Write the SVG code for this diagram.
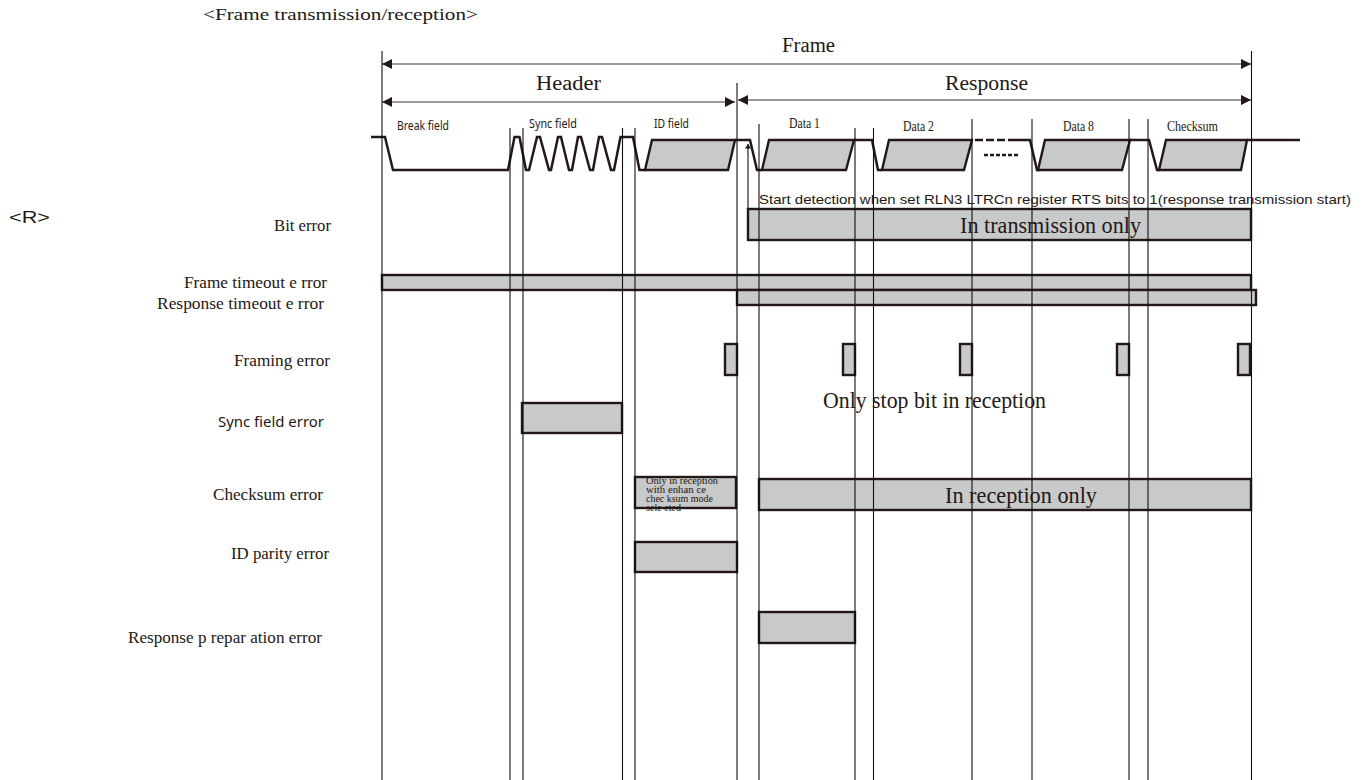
<svg xmlns="http://www.w3.org/2000/svg" width="1362" height="780" viewBox="0 0 1362 780">
<style>
text{font-family:"Liberation Serif","Times New Roman",serif;fill:#231815}
.sans{font-family:"Liberation Sans",Arial,sans-serif}
.noto{font-family:"Noto Sans",sans-serif}
.big{font-size:22.5px}
.hd{font-size:20px}
.lbl{font-size:16px}
.tiny{font-size:10px}
.bar{fill:#c8c9ca;stroke:#231815;stroke-width:2.4}
.wave{fill:none;stroke:#231815;stroke-width:2.5;stroke-linejoin:miter}
.v{stroke:#111;stroke-width:1.1;fill:none}
.dim{stroke:#3a3230;stroke-width:1.1;fill:none;marker-start:url(#ah);marker-end:url(#ah)}
</style>
<defs>
<marker id="ah" viewBox="0 0 10 10" refX="10" refY="5" markerUnits="userSpaceOnUse" markerWidth="10" markerHeight="10" orient="auto-start-reverse"><path d="M0 0L10 5L0 10Z" fill="#231815"/></marker>
<marker id="ahs" viewBox="0 0 6 8" refX="6" refY="4" markerUnits="userSpaceOnUse" markerWidth="6" markerHeight="6" orient="auto"><path d="M0 0L6 4L0 8Z" fill="#231815"/></marker>
</defs>

<text id="title" x="203" y="20" font-size="17" textLength="275" lengthAdjust="spacingAndGlyphs">&lt;Frame transmission/reception&gt;</text>
<text id="rev" class="sans" x="9" y="223" font-size="17" textLength="41" lengthAdjust="spacingAndGlyphs">&lt;R&gt;</text>

<g id="waveform">
<path class="bar" d="M645 170L652 140H735L728 170Z"/>
<path class="bar" d="M762 170L769 140H854L846 170Z"/>
<path class="bar" d="M882 170L889 140H972L964 170Z"/>
<path class="bar" d="M1038 170L1045 140H1130L1122 170Z"/>
<path class="bar" d="M1159 170L1166 140H1247L1241 170Z"/>
<path class="wave" d="M371 137H385L393 170H508L514.500 137H519.500L526 170H529L537 137H540L549 170H551L558 137H561L569 170H572L578 137H581L590 170H593L599 137H602L611 170H614L620.500 137H633L639.500 170H646"/>
<path class="wave" d="M735 140H750L757 170H762"/>
<path class="wave" d="M854 140H872L878 170H882"/>
<path class="wave" d="M1015 140H1030L1037 170H1040"/>
<path class="wave" d="M1130 140H1149L1157 170H1160"/>
<path class="wave" d="M1247 140H1300"/>
<path class="wave" d="M975 140H1015" stroke-dasharray="8 3"/>
<path class="wave" d="M984 155H1020" stroke-dasharray="4 2"/>
</g>

<g id="bars">
<rect id="bit-error-bar" class="bar" x="748" y="209" width="503" height="31"/>
<rect id="frame-timeout-bar" class="bar" x="382" y="275" width="869" height="15"/>
<rect id="response-timeout-bar" class="bar" x="737" y="290" width="519" height="15"/>
<rect class="bar" x="725" y="344" width="12" height="31"/>
<rect class="bar" x="843" y="344" width="12" height="31"/>
<rect class="bar" x="960" y="344" width="12" height="31"/>
<rect class="bar" x="1117" y="344" width="12" height="31"/>
<rect class="bar" x="1238" y="344" width="12" height="31"/>
<rect id="sync-bar" class="bar" x="522" y="403" width="100" height="30"/>
<rect id="checksum-bar-a" class="bar" x="635" y="477" width="101" height="31"/>
<rect id="checksum-bar-b" class="bar" x="759" y="479" width="492" height="31"/>
<rect id="id-parity-bar" class="bar" x="635" y="542" width="102" height="30"/>
<rect id="response-prep-bar" class="bar" x="759" y="612" width="96" height="31"/>
</g>

<g id="connectors">
<path class="v" d="M382 51V780M510 128V780M523 128V780M622.5 128V780M635 128V780M737 83V780M759 124V780M855 128V780M873.500 128V780M972 119V780M1032 119V780M1129 119V780M1148 119V780M1251.500 51V780"/>
<path class="dim" d="M382 64H1251"/>
<path class="dim" d="M382 102H735"/>
<path class="dim" d="M738 100H1251"/>
<path class="v" d="M748 209V144" marker-end="url(#ahs)"/>
</g>

<g id="header-labels">
<text class="hd" x="782" y="52" textLength="53" lengthAdjust="spacingAndGlyphs">Frame</text>
<text class="hd" x="536" y="90" textLength="65" lengthAdjust="spacingAndGlyphs">Header</text>
<text class="hd" x="945" y="90" textLength="83" lengthAdjust="spacingAndGlyphs">Response</text>
<text class="noto" font-size="13" x="397" y="130" textLength="52" lengthAdjust="spacingAndGlyphs">Break field</text>
<text class="noto" font-size="13" x="529" y="128" textLength="48" lengthAdjust="spacingAndGlyphs">Sync field</text>
<text class="noto" font-size="13" x="654" y="128" textLength="35" lengthAdjust="spacingAndGlyphs">ID field</text>
<text font-size="15" x="789" y="128" textLength="31" lengthAdjust="spacingAndGlyphs">Data 1</text>
<text font-size="15" x="903" y="131" textLength="31" lengthAdjust="spacingAndGlyphs">Data 2</text>
<text font-size="15" x="1063" y="131" textLength="31" lengthAdjust="spacingAndGlyphs">Data 8</text>
<text font-size="15" x="1167" y="131" textLength="51" lengthAdjust="spacingAndGlyphs">Checksum</text>
</g>

<g id="row-labels">
<text class="lbl" x="274" y="231" textLength="57" lengthAdjust="spacingAndGlyphs">Bit error</text>
<text class="lbl" x="184" y="288" textLength="143" lengthAdjust="spacingAndGlyphs">Frame timeout e rror</text>
<text class="lbl" x="157" y="309" textLength="167" lengthAdjust="spacingAndGlyphs">Response timeout e rror</text>
<text class="lbl" x="234" y="366" textLength="96" lengthAdjust="spacingAndGlyphs">Framing error</text>
<text class="noto" font-size="15" x="218" y="427" textLength="106" lengthAdjust="spacingAndGlyphs">Sync field error</text>
<text class="lbl" x="213" y="500" textLength="110" lengthAdjust="spacingAndGlyphs">Checksum error</text>
<text class="lbl" x="231" y="559" textLength="98" lengthAdjust="spacingAndGlyphs">ID parity error</text>
<text class="lbl" x="128" y="643" textLength="194" lengthAdjust="spacingAndGlyphs">Response p repar ation error</text>
</g>

<g id="notes">
<text class="sans" font-size="13.500" x="759" y="204" textLength="592" lengthAdjust="spacingAndGlyphs">Start detection when set RLN3 LTRCn register RTS bits to 1(response transmission start)</text>
<text class="big" x="960" y="233" textLength="181" lengthAdjust="spacingAndGlyphs">In transmission only</text>
<text class="big" x="823" y="408" textLength="223" lengthAdjust="spacingAndGlyphs">Only stop bit in reception</text>
<text class="big" x="945" y="503" textLength="152" lengthAdjust="spacingAndGlyphs">In reception only</text>
<text class="tiny" x="646" y="484" textLength="72" lengthAdjust="spacingAndGlyphs">Only in reception</text>
<text class="tiny" x="646" y="493" textLength="60" lengthAdjust="spacingAndGlyphs">with enhan ce</text>
<text class="tiny" x="646" y="502" textLength="67" lengthAdjust="spacingAndGlyphs">chec ksum mode</text>
<text class="tiny" x="646" y="511" textLength="35" lengthAdjust="spacingAndGlyphs">sele cted</text>
</g>
</svg>
